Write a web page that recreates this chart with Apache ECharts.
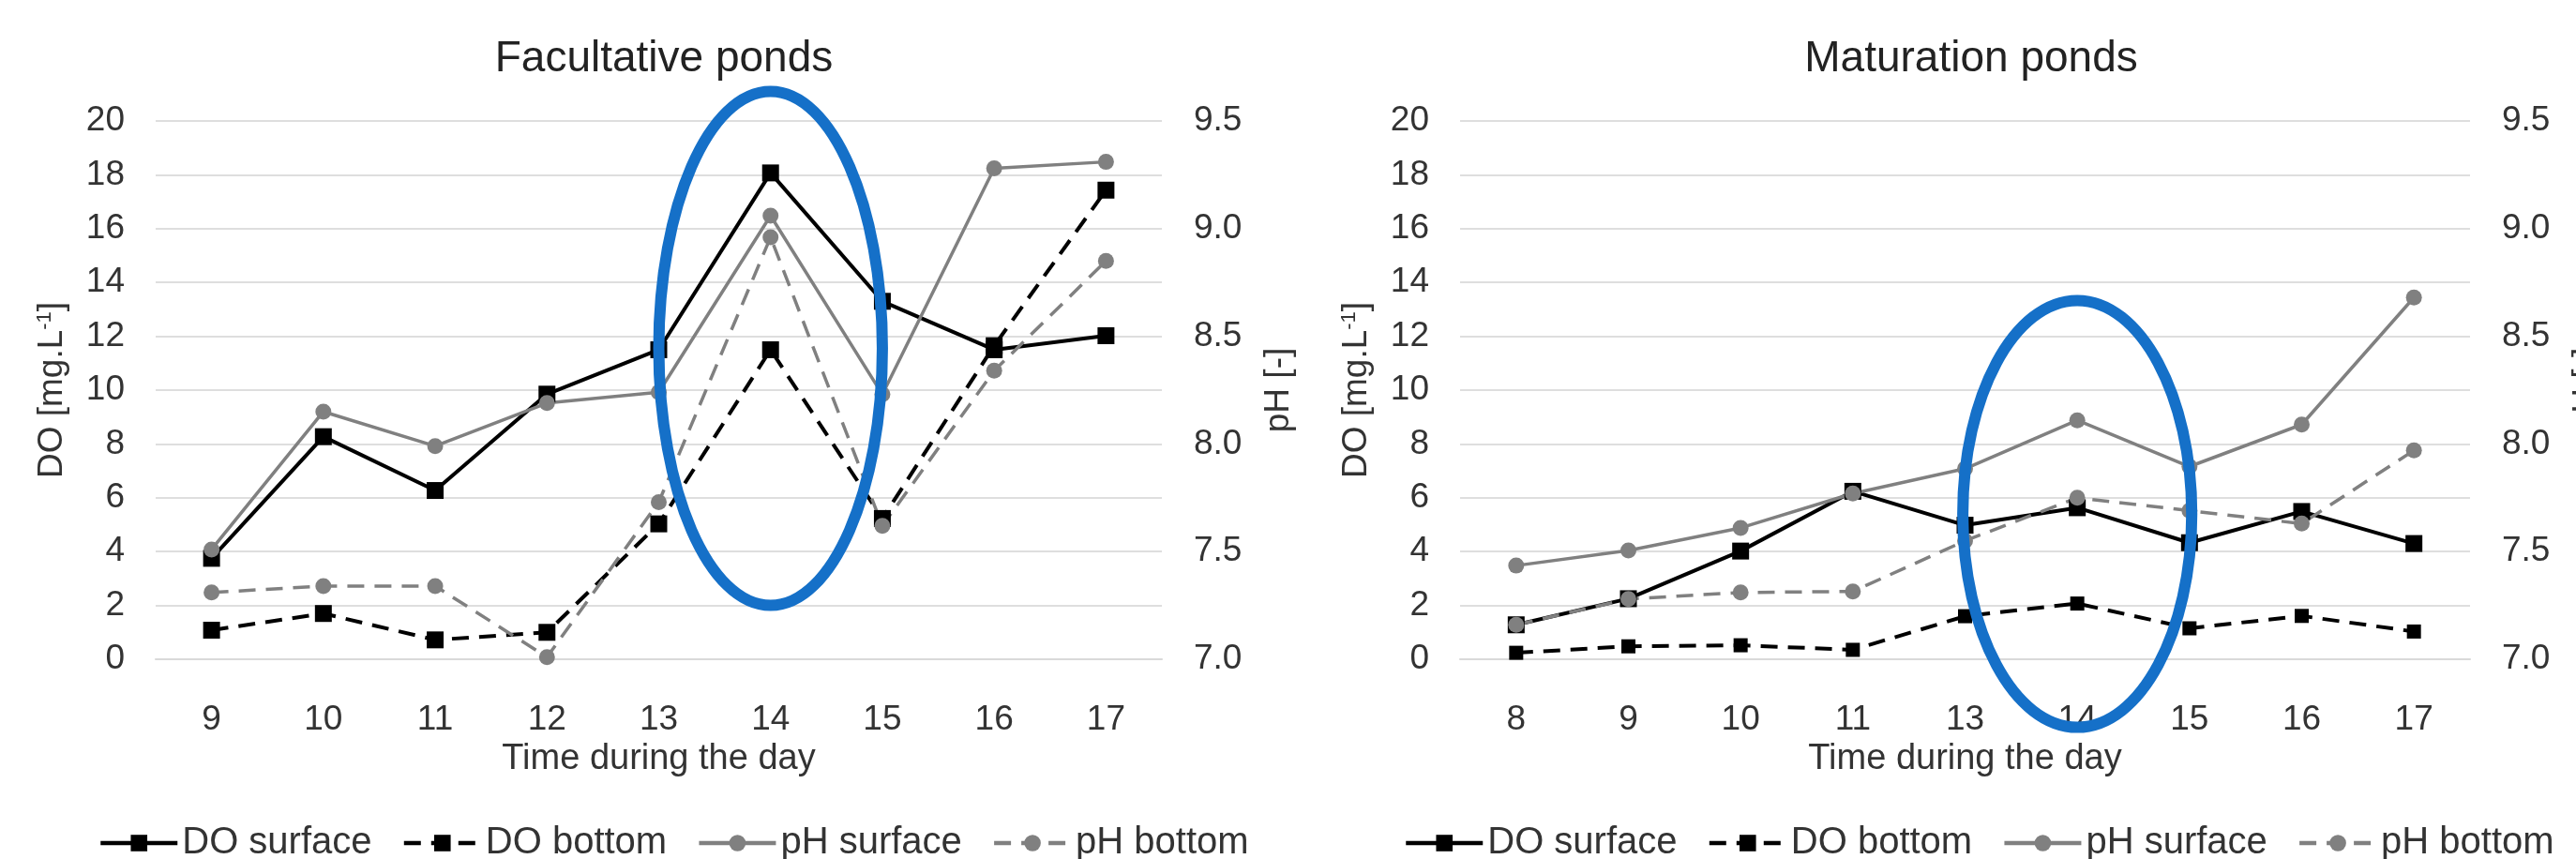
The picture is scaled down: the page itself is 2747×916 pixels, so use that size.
<!DOCTYPE html>
<html>
<head>
<meta charset="utf-8">
<script src="https://cdn.jsdelivr.net/npm/echarts@6/dist/echarts.min.js"></script>
<style>
html,body{margin:0;padding:0;background:#fff;}
#chart{width:2747px;height:916px;}
</style>
</head>
<body>
<div id="chart"></div>
<script>
// ---------- DATA ----------
const facCategories = ['9','10','11','12','13','14','15','16','17'];
const facDOSurface  = [3.75, 8.27, 6.27, 9.85, 11.5, 18.07, 13.3, 11.5, 12.02];
const facDOBottom   = [1.08, 1.7, 0.72, 1.0, 5.03, 11.5, 5.23, 11.65, 17.43];
const facPHSurface  = [7.51, 8.15, 7.99, 8.19, 8.24, 9.06, 8.23, 9.28, 9.31];
const facPHBottom   = [7.31, 7.34, 7.34, 7.01, 7.73, 8.96, 7.62, 8.34, 8.85];

const matCategories = ['8','9','10','11','13','14','15','16','17'];
const matDOSurface  = [1.28, 2.25, 4.02, 6.24, 4.98, 5.63, 4.33, 5.49, 4.3];
const matDOBottom   = [0.24, 0.48, 0.52, 0.35, 1.6, 2.07, 1.15, 1.61, 1.03];
const matPHSurface  = [7.435, 7.505, 7.61, 7.77, 7.885, 8.11, 7.895, 8.09, 8.68];
const matPHBottom   = [7.16, 7.28, 7.31, 7.315, 7.55, 7.75, 7.69, 7.63, 7.97];

const doTicks = {min: 0, max: 20, interval: 2};
const phTicks = {min: 7.0, max: 9.5, interval: 0.5};

const seriesNames = ['DO surface', 'DO bottom', 'pH surface', 'pH bottom'];
const titles = ['Facultative ponds', 'Maturation ponds'];
const xName = 'Time during the day';

// highlight ellipses: [category, top DO value, bottom DO value, half width in categories]
const facEllipse = ['14', 21.1, 2.0, 1.0];
const matEllipse = ['14', 13.33, -2.53, 1.02];

// ---------- STYLE ----------
const FONT = '"Liberation Sans", Arial, Helvetica, sans-serif';
const TXT = '#333333';
const GRAY = '#808080';
const BLUE = '#1570c8';

const chart = echarts.init(document.getElementById('chart'), null, {renderer: 'canvas'});

const grids = [
  {left: 166, top: 129, width: 1073, height: 574, outerBoundsMode: 'none', containLabel: false},
  {left: 1557, top: 129, width: 1077, height: 574, outerBoundsMode: 'none', containLabel: false}
];

function xAxis(gi, cats) {
  return {
    type: 'category', gridIndex: gi, data: cats, boundaryGap: true,
    axisLine: {show: true, lineStyle: {color: '#d9d9d9', width: 2}},
    axisTick: {show: false},
    axisLabel: {fontFamily: FONT, fontSize: 37, color: TXT, margin: 46},
    name: xName, nameLocation: 'middle', nameGap: 87,
    nameTextStyle: {fontFamily: FONT, fontSize: 38, color: TXT}
  };
}
function yDO(gi) {
  return {
    type: 'value', gridIndex: gi, position: 'left',
    min: doTicks.min, max: doTicks.max, interval: doTicks.interval,
    axisLine: {show: false}, axisTick: {show: false},
    splitLine: {show: true, lineStyle: {color: '#dedede', width: 2}},
    axisLabel: {fontFamily: FONT, fontSize: 37, color: TXT, margin: 33},
    name: 'DO [mg.L{sup|-1}]', nameLocation: 'middle', nameGap: 92, nameRotate: 90,
    nameTextStyle: {fontFamily: FONT, fontSize: 37, color: TXT,
      rich: {sup: {fontFamily: FONT, fontSize: 22, color: TXT, verticalAlign: 'top', padding: [0, 0, 14, 0]}}}
  };
}
function yPH(gi) {
  return {
    type: 'value', gridIndex: gi, position: 'right',
    min: phTicks.min, max: phTicks.max, interval: phTicks.interval,
    axisLine: {show: false}, axisTick: {show: false}, splitLine: {show: false},
    axisLabel: {fontFamily: FONT, fontSize: 37, color: TXT, margin: 34,
      formatter: v => v.toFixed(1)},
    name: 'pH [-]', nameLocation: 'middle', nameGap: 106, nameRotate: 90,
    nameTextStyle: {fontFamily: FONT, fontSize: 37, color: TXT}
  };
}

function lineSeries(name, data, xi, yi, color, dashed, symbol, size, width) {
  return {
    name, type: 'line', data, xAxisIndex: xi, yAxisIndex: yi,
    symbol, symbolSize: size, showAllSymbol: true,
    lineStyle: {color, width, type: dashed ? [18, 11] : 'solid'},
    itemStyle: {color, borderWidth: 0},
    emphasis: {disabled: true}, animation: false, z: 3
  };
}

function ellipseSeries(xi, yi, e) {
  return {
    type: 'custom', xAxisIndex: xi, yAxisIndex: yi, silent: true, z: 10, animation: false,
    clip: false,
    data: [e],
    encode: {x: 0, y: [1, 2]},
    renderItem: function (params, api) {
      const p1 = api.coord([api.value(0), api.value(1)]);
      const p2 = api.coord([api.value(0), api.value(2)]);
      const rx = api.size([1, 0])[0] * api.value(3);
      return {
        type: 'ellipse',
        shape: {cx: p1[0], cy: (p1[1] + p2[1]) / 2, rx: rx, ry: Math.abs(p2[1] - p1[1]) / 2},
        style: {fill: 'none', stroke: BLUE, lineWidth: 12}
      };
    }
  };
}

function legend(left) {
  return {
    left: left, top: 874, orient: 'horizontal',
    data: seriesNames, itemWidth: 82, itemHeight: 22, itemGap: 32,
    lineStyle: {width: 4.5},
    textStyle: {fontFamily: FONT, fontSize: 40, color: TXT, padding: [0, 0, 0, 0]},
    selectedMode: false
  };
}

const option = {
  backgroundColor: '#ffffff',
  animation: false,
  title: [
    {text: titles[0], left: 708, top: 40, textAlign: 'center', padding: 0,
     textStyle: {fontFamily: FONT, fontSize: 46, fontWeight: 'normal', color: '#222'}},
    {text: titles[1], left: 2102, top: 40, textAlign: 'center', padding: 0,
     textStyle: {fontFamily: FONT, fontSize: 46, fontWeight: 'normal', color: '#222'}}
  ],
  legend: [legend(100), legend(1492)],
  grid: grids,
  xAxis: [xAxis(0, facCategories), xAxis(1, matCategories)],
  yAxis: [yDO(0), yPH(0), yDO(1), yPH(1)],
  series: [
    lineSeries(seriesNames[0], facDOSurface, 0, 0, '#000', false, 'rect', 18, 4),
    lineSeries(seriesNames[1], facDOBottom, 0, 0, '#000', true, 'rect', 18, 4),
    lineSeries(seriesNames[2], facPHSurface, 0, 1, GRAY, false, 'circle', 17, 3.5),
    lineSeries(seriesNames[3], facPHBottom, 0, 1, GRAY, true, 'circle', 17, 3.5),
    lineSeries(seriesNames[0], matDOSurface, 1, 2, '#000', false, 'rect', 18, 4),
    lineSeries(seriesNames[1], matDOBottom, 1, 2, '#000', true, 'rect', 15, 4),
    lineSeries(seriesNames[2], matPHSurface, 1, 3, GRAY, false, 'circle', 17, 3.5),
    lineSeries(seriesNames[3], matPHBottom, 1, 3, GRAY, true, 'circle', 17, 3.5),
    ellipseSeries(0, 0, facEllipse),
    ellipseSeries(1, 2, matEllipse)
  ]
};
chart.setOption(option);
</script>
</body>
</html>
